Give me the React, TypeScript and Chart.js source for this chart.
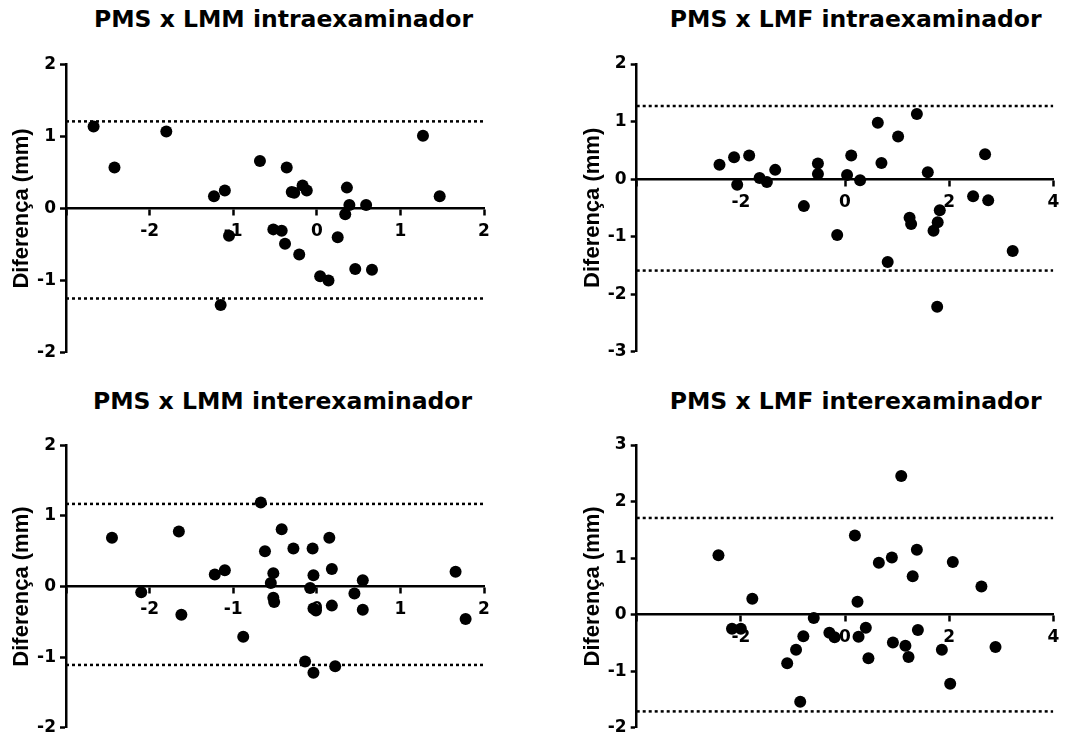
import React, { useEffect, useRef } from "react";
import { Chart, registerables } from "chart.js";

Chart.register(...registerables);

// ---------- data ----------
const titles = [
  "PMS x LMM intraexaminador",
  "PMS x LMF intraexaminador",
  "PMS x LMM interexaminador",
  "PMS x LMF interexaminador",
];

const yAxisTitle = "Diferença (mm)";

// Panel 1: PMS x LMM intraexaminador
const lmmIntraX = [-2.67, -2.42, -1.80, -1.23, -1.10, -1.15, -1.05, -0.68, -0.52, -0.42, -0.38, -0.36, -0.30, -0.27, -0.21, -0.17, -0.12, 0.04, 0.14, 0.25, 0.36, 0.34, 0.39, 0.46, 0.59, 0.66, 1.27, 1.47];
const lmmIntraY = [1.14, 0.57, 1.07, 0.17, 0.25, -1.34, -0.38, 0.66, -0.29, -0.31, -0.49, 0.57, 0.23, 0.22, -0.64, 0.32, 0.25, -0.94, -1.00, -0.40, 0.29, -0.08, 0.05, -0.84, 0.05, -0.85, 1.01, 0.17];
const lmmIntraLimits = [1.21, -1.25];

// Panel 2: PMS x LMF intraexaminador
const lmfIntraX = [-2.41, -2.13, -2.07, -1.84, -1.64, -1.50, -1.34, -0.79, -0.52, -0.52, -0.15, 0.04, 0.12, 0.29, 0.63, 0.70, 0.82, 1.02, 1.24, 1.27, 1.38, 1.59, 1.70, 1.77, 1.78, 1.82, 2.46, 2.69, 2.75, 3.22];
const lmfIntraY = [0.25, 0.38, -0.10, 0.41, 0.02, -0.05, 0.16, -0.47, 0.27, 0.09, -0.97, 0.07, 0.41, -0.02, 0.98, 0.28, -1.44, 0.74, -0.67, -0.78, 1.13, 0.12, -0.90, -2.22, -0.75, -0.54, -0.30, 0.43, -0.37, -1.25];
const lmfIntraLimits = [1.27, -1.59];

// Panel 3: PMS x LMM interexaminador
const lmmInterX = [-2.45, -2.10, -1.65, -1.62, -1.22, -1.10, -0.88, -0.67, -0.62, -0.55, -0.52, -0.52, -0.51, -0.42, -0.28, -0.14, -0.08, -0.05, -0.04, -0.04, -0.01, -0.04, 0.15, 0.18, 0.18, 0.22, 0.45, 0.55, 0.55, 1.66, 1.78];
const lmmInterY = [0.69, -0.08, 0.78, -0.40, 0.17, 0.23, -0.71, 1.19, 0.50, 0.05, 0.19, -0.16, -0.22, 0.81, 0.54, -1.06, -0.02, 0.54, 0.16, -0.31, -0.34, -1.22, 0.69, 0.25, -0.27, -1.13, -0.10, 0.09, -0.33, 0.21, -0.46];
const lmmInterLimits = [1.17, -1.11];

// Panel 4: PMS x LMF interexaminador
const lmfInterX = [-2.43, -2.17, -2.00, -1.78, -1.11, -0.94, -0.86, -0.80, -0.60, -0.30, -0.20, 0.19, 0.24, 0.26, 0.40, 0.45, 0.65, 0.90, 0.92, 1.08, 1.16, 1.22, 1.30, 1.38, 1.40, 1.86, 2.02, 2.07, 2.62, 2.89];
const lmfInterY = [1.05, -0.25, -0.25, 0.28, -0.86, -0.62, -1.54, -0.38, -0.06, -0.32, -0.40, 1.40, 0.23, -0.39, -0.23, -0.77, 0.92, 1.01, -0.49, 2.45, -0.55, -0.75, 0.68, 1.15, -0.27, -0.62, -1.22, 0.93, 0.50, -0.57];
const lmfInterLimits = [1.71, -1.71];

// axis ranges
const xRangeLMM = [-3, 2, 1];
const xRangeLMF = [-4, 4, 2];
const yRangeA = [-2, 2];
const yRangeB = [-3, 2];
const yRangeC = [-2, 3];

// ---------- layout ----------
type Panel = {
  title: string;
  xs: number[];
  ys: number[];
  limits: number[];
  xr: number[];
  yr: number[];
  box: { L: number; T: number; W: number; H: number };
  area: { l: number; r: number; t: number; b: number };
  titleCx: number;
  titleTop: number;
};

const panels: Panel[] = [
  {
    title: titles[0], xs: lmmIntraX, ys: lmmIntraY, limits: lmmIntraLimits, xr: xRangeLMM, yr: yRangeA,
    box: { L: 0, T: 40, W: 540, H: 340 }, area: { l: 66, r: 484, t: 64.5, b: 352.5 },
    titleCx: 283.5, titleTop: 8.4,
  },
  {
    title: titles[1], xs: lmfIntraX, ys: lmfIntraY, limits: lmfIntraLimits, xr: xRangeLMF, yr: yRangeB,
    box: { L: 571, T: 40, W: 510, H: 340 }, area: { l: 636.7, r: 1053.3, t: 64, b: 351.7 },
    titleCx: 855.7, titleTop: 8.4,
  },
  {
    title: titles[2], xs: lmmInterX, ys: lmmInterY, limits: lmmInterLimits, xr: xRangeLMM, yr: yRangeA,
    box: { L: 0, T: 420, W: 540, H: 322 }, area: { l: 66, r: 484, t: 445.3, b: 733.3 },
    titleCx: 282.5, titleTop: 390.4,
  },
  {
    title: titles[3], xs: lmfInterX, ys: lmfInterY, limits: lmfInterLimits, xr: xRangeLMF, yr: yRangeC,
    box: { L: 571, T: 420, W: 510, H: 322 }, area: { l: 636.7, r: 1053.3, t: 445, b: 732.7 },
    titleCx: 855.7, titleTop: 390.4,
  },
];

const TICK_FONT = { family: "'DejaVu Sans', sans-serif", size: 17, weight: "bold" as const, lineHeight: 1.2 };

function PanelChart({ p }: { p: Panel }) {
  const ref = useRef<HTMLCanvasElement | null>(null);
  useEffect(() => {
    if (!ref.current) return;
    const { box, area } = p;
    const yWidth = area.l - box.L;
    const padRight = box.L + box.W - area.r;
    const padTop = area.t - box.T;
    const padBottom = box.T + box.H - area.b;
    const [xMin, xMax, xStep] = p.xr;
    const [yMin, yMax] = p.yr;
    const points = p.xs.map((x, i) => ({ x, y: p.ys[i] }));
    const limitLine = (v: number) => ({
      type: "line" as const,
      data: [{ x: xMin, y: v }, { x: xMax, y: v }],
      borderColor: "#000",
      borderWidth: 2.5,
      borderDash: [3, 3],
      pointRadius: 0,
      fill: false,
      order: 2,
    });
    const chart = new Chart(ref.current, {
      type: "scatter",
      data: {
        datasets: [
          {
            type: "scatter",
            data: points,
            pointRadius: 6,
            pointHoverRadius: 6,
            backgroundColor: "#000",
            borderColor: "#000",
            borderWidth: 0,
            order: 1,
          } as any,
          limitLine(p.limits[0]) as any,
          limitLine(p.limits[1]) as any,
        ],
      },
      options: {
        animation: false,
        responsive: false,
        maintainAspectRatio: false,
        events: [],
        layout: { padding: { left: 0, right: padRight, top: padTop, bottom: padBottom } },
        plugins: {
          legend: { display: false },
          tooltip: { enabled: false },
          title: { display: false },
        },
        scales: {
          x: {
            type: "linear",
            position: { y: 0 } as any,
            min: xMin,
            max: xMax,
            ticks: {
              stepSize: xStep,
              autoSkip: false,
              maxRotation: 0,
              color: "#000",
              padding: 7,
              font: TICK_FONT,
              callback: (v: any) => (v === xMin ? "" : String(v)),
            },
            grid: {
              drawOnChartArea: false,
              drawTicks: true,
              tickLength: 6,
              tickWidth: 2.5,
              tickColor: "#000",
            },
            border: { display: true, color: "#000", width: 2.5 },
          },
          y: {
            type: "linear",
            position: "left",
            min: yMin,
            max: yMax,
            afterFit: (s: any) => {
              s.width = yWidth;
            },
            ticks: {
              stepSize: 1,
              autoSkip: false,
              color: "#000",
              padding: 4,
              font: TICK_FONT,
              callback: (v: any) => String(v),
            },
            grid: {
              drawOnChartArea: false,
              drawTicks: true,
              tickLength: 6,
              tickWidth: 2.5,
              tickColor: "#000",
            },
            border: { display: true, color: "#000", width: 2.5 },
            title: {
              display: true,
              text: yAxisTitle,
              color: "#000",
              font: { family: "'Liberation Sans', Arial, sans-serif", size: 22, weight: "bold", lineHeight: 1 },
              padding: { top: 11, bottom: 0 },
            },
          },
        },
      } as any,
    });
    return () => chart.destroy();
  }, [p]);

  return (
    <>
      <div
        style={{
          position: "absolute",
          left: p.titleCx - 300,
          top: p.titleTop,
          width: 600,
          textAlign: "center",
          fontFamily: "'DejaVu Sans', sans-serif",
          fontWeight: "bold",
          fontSize: 23.5,
          lineHeight: 1,
          color: "#000",
          whiteSpace: "nowrap",
        }}
      >
        {p.title}
      </div>
      <canvas
        ref={ref}
        width={p.box.W}
        height={p.box.H}
        style={{ position: "absolute", left: p.box.L, top: p.box.T, width: p.box.W, height: p.box.H }}
      />
    </>
  );
}

export default function App() {
  return (
    <div
      style={{
        position: "absolute",
        left: 0,
        top: 0,
        width: 1081,
        height: 742,
        overflow: "hidden",
        background: "#fff",
      }}
    >
      {panels.map((p, i) => (
        <PanelChart key={i} p={p} />
      ))}
    </div>
  );
}
